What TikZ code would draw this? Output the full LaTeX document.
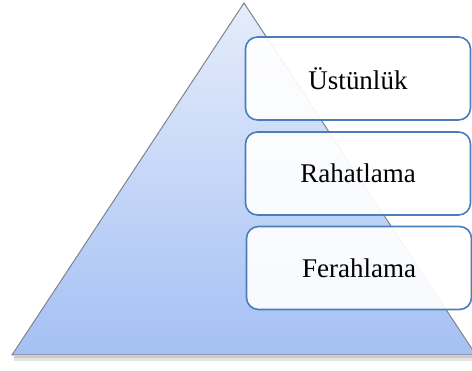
\documentclass[tikz,border=0pt]{standalone}
\usepackage{fontspec}
\setmainfont{Liberation Serif}
\definecolor{edgeblue}{HTML}{4A7EBB}
\definecolor{tritop}{HTML}{E6EDFB}
\definecolor{tribot}{HTML}{A4C0F4}
\definecolor{triedge}{HTML}{7F848C}
\begin{document}
\begin{tikzpicture}[x=1pt,y=-1pt,
  levelbox/.style={draw=edgeblue, line width=1.6pt, rounded corners=12pt,
    fill=white, fill opacity=0.92, text opacity=1,
    minimum width=225pt, minimum height=83pt, inner sep=0pt,
    font=\fontsize{27pt}{31pt}\selectfont}]
\useasboundingbox (0,0) rectangle (472,371);
% shadow
\fill[black!30, opacity=0.35] (14,356) -- (478,356) -- (478,361) -- (14,361) -- cycle;
\fill[black!30, opacity=0.5] (14,356) -- (478,356) -- (478,358.5) -- (14,358.5) -- cycle;
% pyramid
\coordinate (apex) at (244,3);
\coordinate (bl) at (12,355);
\coordinate (br) at (476,355);
\shade[top color=tritop, bottom color=tribot, draw=triedge, line width=1pt]
  (apex) -- (br) -- (bl) -- cycle;
% levels
\node[levelbox] (top) at (358,78.5) {Üstünlük};
\node[levelbox] (mid) at (358,173.5) {Rahatlama};
\node[levelbox] (low) at (359,268) {Ferahlama};
\end{tikzpicture}
\end{document}
